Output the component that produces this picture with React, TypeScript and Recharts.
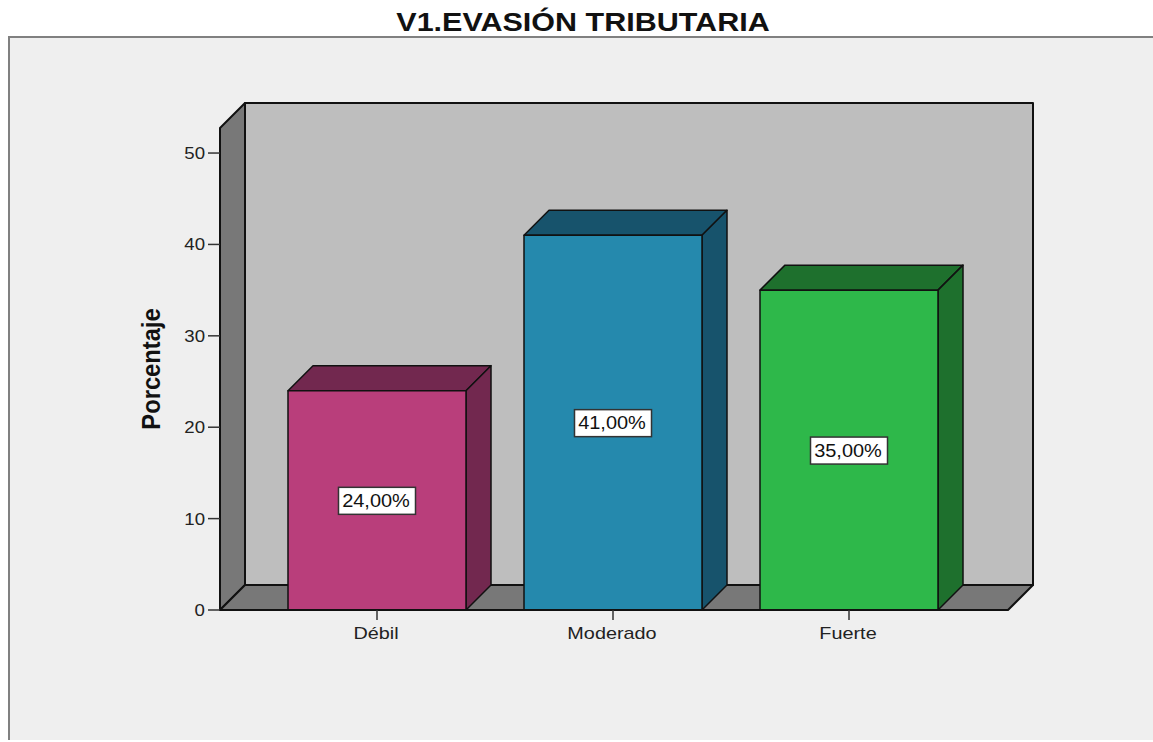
import { BarChart, Bar, XAxis, YAxis, ReferenceArea, LabelList } from "recharts";

const categories = ["Débil", "Moderado", "Fuerte"];
const percentages = [24, 41, 35];
const yTicks = [0, 10, 20, 30, 40, 50];

const frontColors = ["#b93e7b", "#2589ad", "#2eb84a"];
const sideColors = ["#72284f", "#17536c", "#1e702d"];

const data = categories.map((name, i) => ({ name, value: percentages[i] }));

const DEPTH = 25;
const PAD_LEFT = 39;
const PAD_RIGHT = 41;
const FONT = "'Liberation Sans', Arial, sans-serif";
const INK = "#111";

const pts = (list: number[][]) => list.map((p) => p.join(",")).join(" ");

// the reference area stops at the axis padding, so widen it back to the plot edges
const Walls = ({ x: paddedX, y, width: paddedWidth, height }: any) => {
  const x = paddedX - PAD_LEFT;
  const width = paddedWidth + PAD_LEFT + PAD_RIGHT;
  const bottom = y + height;
  const right = x + width;
  return (
    <g stroke={INK} strokeWidth={2} strokeLinejoin="round">
      <rect x={x + DEPTH} y={y - DEPTH} width={width} height={height} fill="#bebebe" />
      <polygon
        points={pts([[x, bottom], [x, y], [x + DEPTH, y - DEPTH], [x + DEPTH, bottom - DEPTH]])}
        fill="#787878"
      />
      <polygon
        points={pts([[x, bottom], [x + DEPTH, bottom - DEPTH], [right + DEPTH, bottom - DEPTH], [right, bottom]])}
        fill="#787878"
      />
    </g>
  );
};

const Box3D = ({ x, y, width, height, index }: any) => {
  const right = x + width;
  const bottom = y + height;
  return (
    <g stroke={INK} strokeWidth={1.5} strokeLinejoin="round">
      <polygon
        points={pts([[x, y], [x + DEPTH, y - DEPTH], [right + DEPTH, y - DEPTH], [right, y]])}
        fill={sideColors[index]}
      />
      <polygon
        points={pts([[right, y], [right + DEPTH, y - DEPTH], [right + DEPTH, bottom - DEPTH], [right, bottom]])}
        fill={sideColors[index]}
      />
      <rect x={x} y={y} width={width} height={height} fill={frontColors[index]} />
    </g>
  );
};

const ValueBox = ({ viewBox, value }: any) => {
  const cx = viewBox.x + viewBox.width / 2;
  const cy = viewBox.y + viewBox.height / 2;
  const text = `${value.toFixed(2).replace(".", ",")}%`;
  return (
    <g>
      <rect x={cx - 38.5} y={cy - 13} width={77} height={27} fill="#fff" stroke="#333" strokeWidth={1.5} />
      <text
        transform={`translate(${cx - 1},${cy + 6.5}) scale(1.11 1)`}
        textAnchor="middle"
        fontFamily={FONT}
        fontSize={18}
        fill={INK}
      >
        {text}
      </text>
    </g>
  );
};

const XTick = ({ x, y, payload }: any) => (
  <text
    transform={`translate(${x - 1},${y + 17}) scale(1.24 1)`}
    textAnchor="middle"
    fontFamily={FONT}
    fontSize={16}
    fill="#222"
  >
    {payload.value}
  </text>
);

const YTick = ({ x, y, payload }: any) => (
  <text
    transform={`translate(${x - 1},${y + 6}) scale(1.13 1)`}
    textAnchor="end"
    fontFamily={FONT}
    fontSize={16.5}
    fill="#222"
  >
    {payload.value}
  </text>
);

const AxisTitle = () => (
  <text
    transform="translate(160,369) rotate(-90) scale(1.13 1.2)"
    textAnchor="middle"
    fontFamily={FONT}
    fontSize={21}
    fontWeight="bold"
    fill={INK}
  >
    Porcentaje
  </text>
);

export default function App() {
  return (
    <div style={{ position: "absolute", left: 0, top: 0, width: 1153, height: 742, background: "#fff", overflow: "hidden" }}>
      <div
        style={{
          position: "absolute",
          left: 0,
          width: 1166,
          top: 5,
          textAlign: "center",
          fontFamily: FONT,
          fontWeight: "bold",
          fontSize: 25,
          lineHeight: "34px",
          color: INK,
          transform: "scaleX(1.22)",
        }}
      >
        V1.EVASIÓN TRIBUTARIA
      </div>
      <div
        style={{
          position: "absolute",
          left: 8,
          top: 36,
          right: 0,
          bottom: 2,
          background: "#efefef",
          borderLeft: "2px solid #808080",
          borderTop: "2px solid #808080",
        }}
      />
      <div style={{ position: "absolute", left: 0, top: 0 }}>
        <BarChart
          width={1153}
          height={742}
          data={data}
          margin={{ top: 128, right: 145, bottom: 102, left: 160 }}
        >
          <ReferenceArea y1={0} y2={52.74} shape={<Walls />} />
          <XAxis
            dataKey="name"
            height={30}
            padding={{ left: PAD_LEFT, right: PAD_RIGHT }}
            tick={<XTick />}
            tickSize={10}
            axisLine={{ stroke: INK, strokeWidth: 2 }}
            tickLine={{ stroke: "#333", strokeWidth: 1.5 }}
          />
          <YAxis
            width={60}
            domain={[0, 52.74]}
            ticks={yTicks}
            tick={<YTick />}
            tickSize={12}
            axisLine={{ stroke: INK, strokeWidth: 2 }}
            tickLine={{ stroke: "#333", strokeWidth: 1.5 }}
            label={<AxisTitle />}
          />
          <Bar dataKey="value" barSize={178} shape={<Box3D />} isAnimationActive={false}>
            <LabelList dataKey="value" content={<ValueBox />} />
          </Bar>
        </BarChart>
      </div>
    </div>
  );
}
